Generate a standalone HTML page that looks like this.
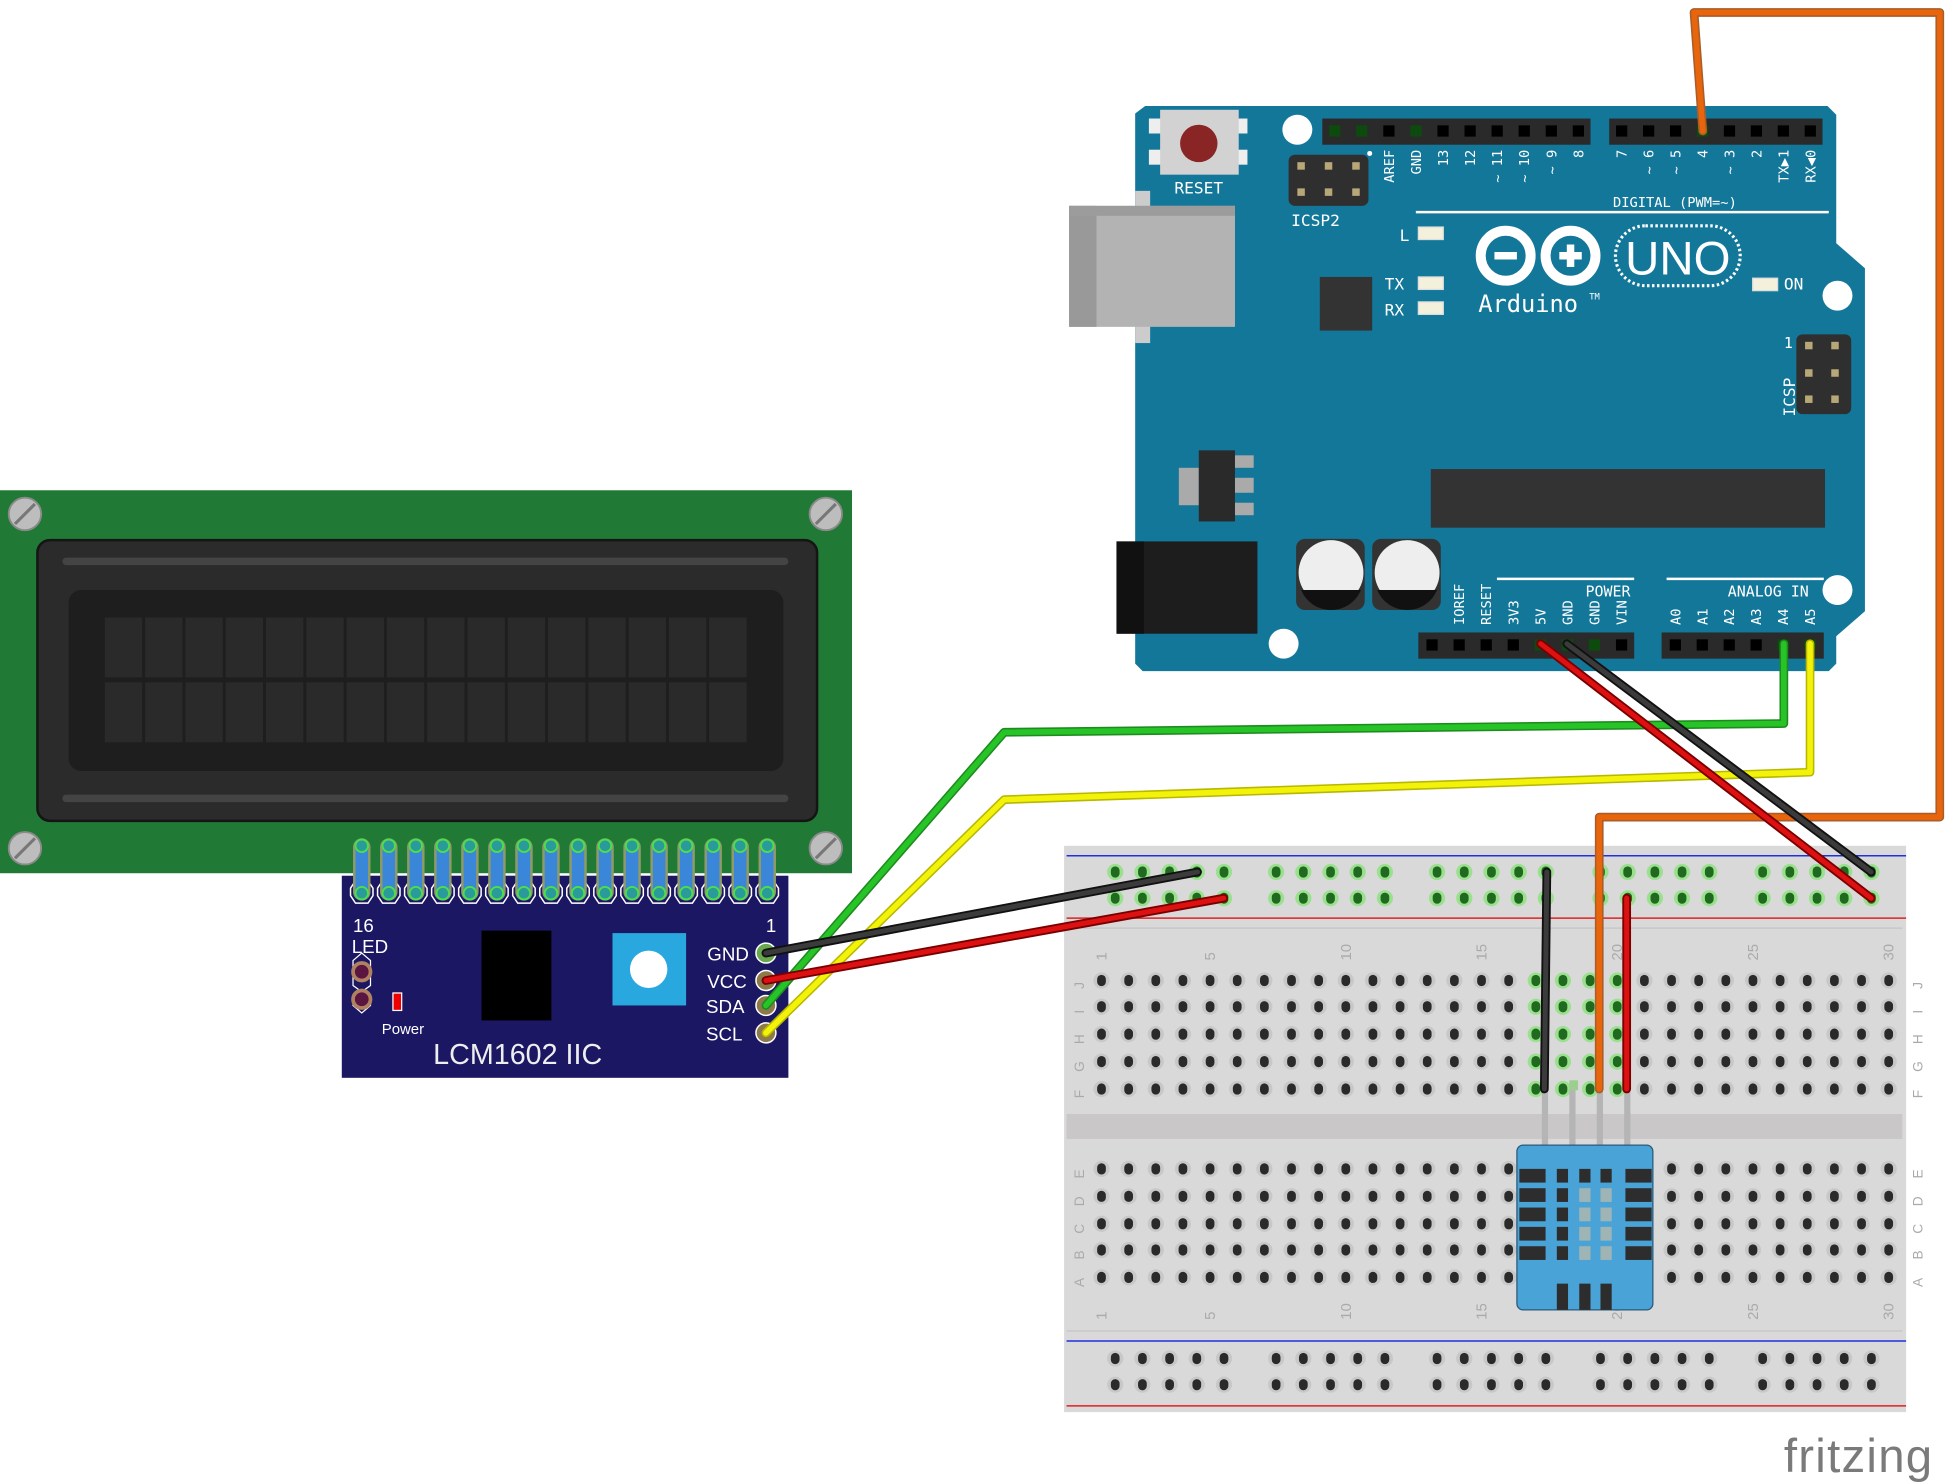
<!DOCTYPE html>
<html><head><meta charset="utf-8"><style>
html,body{margin:0;padding:0;background:#fff;}
svg{display:block;}
.m{font-family:"DejaVu Sans Mono","Liberation Mono",monospace;fill:#fff;}
.s{font-family:"Liberation Sans",sans-serif;}
</style></head><body>
<svg id="sv" width="1956" height="1482" viewBox="0 0 1568 1188" xmlns="http://www.w3.org/2000/svg">
<rect width="1568" height="1188" fill="#fff"/>
<!-- LCD -->
<rect x="0" y="393" width="683" height="307" fill="#207a36"/>
<g fill="#bdbdbd" stroke="#8a8a8a" stroke-width="1.5">
<circle cx="20" cy="412" r="13"/><circle cx="662" cy="412" r="13"/><circle cx="20" cy="680" r="13"/><circle cx="662" cy="680" r="13"/></g>
<g stroke="#777" stroke-width="2.5"><line x1="12" y1="420" x2="28" y2="404"/><line x1="654" y1="420" x2="670" y2="404"/><line x1="12" y1="688" x2="28" y2="672"/><line x1="654" y1="688" x2="670" y2="672"/></g>
<rect x="30" y="433" width="625" height="225" rx="10" fill="#2b2b2b" stroke="#151515" stroke-width="2"/>
<rect x="50" y="447" width="582" height="6" rx="3" fill="#444"/>
<rect x="50" y="637" width="582" height="6" rx="3" fill="#444"/>
<rect x="55" y="473" width="573" height="145" rx="10" fill="#1e1e1e"/>
<g id="cells" fill="#2a2a2a"></g>
<!-- I2C board -->
<rect x="274" y="702" width="358" height="162" fill="#1b1763"/>
<g id="lcdpins"></g>
<text x="283" y="747" class="s" font-size="15" fill="#fff">16</text>
<text x="282" y="764" class="s" font-size="15" fill="#fff">LED</text>
<text x="614" y="747" class="s" font-size="15" fill="#fff">1</text>
<path d="M283 770 l7 -6 l7 6 v20 l-7 5 l7 5 v6 l-7 6 l-7 -6 v-6 l7 -5 l-7 -5z" fill="none" stroke="#fff" stroke-width="1"/>
<circle cx="290" cy="779" r="7" fill="#5a1540" stroke="#b08060" stroke-width="3"/>
<circle cx="290" cy="801" r="7" fill="#5a1540" stroke="#b08060" stroke-width="3"/>
<rect x="315" y="796" width="7" height="14" fill="#e00" stroke="#fff" stroke-width="1"/>
<text x="306" y="829" class="s" font-size="12" fill="#fff">Power</text>
<rect x="386" y="746" width="56" height="72" fill="#000"/>
<rect x="491" y="748" width="59" height="58" fill="#29a8e0"/>
<circle cx="520" cy="777" r="15" fill="#fff"/>
<g class="s" font-size="15" fill="#fff"><text x="567" y="770">GND</text><text x="567" y="792">VCC</text><text x="566" y="812">SDA</text><text x="566" y="834">SCL</text></g>
<g fill="#55a050" stroke="#fff" stroke-width="1.2">
<circle cx="614" cy="764" r="8" fill="#6aa84f"/><circle cx="614" cy="786" r="8" fill="#8d7a4a"/><circle cx="614" cy="806" r="8" fill="#8d7a4a"/><circle cx="614" cy="828" r="8" fill="#8d7a4a"/></g>
<text x="415" y="853" class="s" font-size="23" fill="#eee" text-anchor="middle">LCM1602 IIC</text>

<!-- Arduino -->
<path d="M918 85 H1465 L1472 92 V195 L1495 215 V490 L1472 510 V532 L1466 538 H916 L910 532 V91 Z" fill="#13779a"/>
<rect x="921" y="95" width="10" height="12" fill="#eee"/><rect x="921" y="120" width="10" height="12" fill="#eee"/>
<rect x="991" y="95" width="9" height="12" fill="#eee"/><rect x="991" y="120" width="9" height="12" fill="#eee"/>
<rect x="930" y="88" width="63" height="52" fill="#d2d2d2"/>
<circle cx="961" cy="115" r="15" fill="#8a2525"/>
<text x="961" y="155" class="m" font-size="13" text-anchor="middle">RESET</text>
<g fill="#fff"><circle cx="1040" cy="104" r="12"/><circle cx="1473" cy="237" r="12"/><circle cx="1473" cy="473" r="12"/><circle cx="1029" cy="516" r="12"/></g>
<rect x="1060" y="95" width="215" height="21" fill="#2a2a2a"/>
<rect x="1290" y="95" width="171" height="21" fill="#2a2a2a"/>
<rect x="1137" y="507" width="173" height="21" fill="#2a2a2a"/>
<rect x="1332" y="507" width="130" height="21" fill="#2a2a2a"/>
<g id="hdr"></g>
<g id="lbl" class="m" font-size="11"></g>
<circle cx="1098" cy="123" r="2" fill="#fff"/>
<line x1="1135" y1="170" x2="1466" y2="170" stroke="#fff" stroke-width="2"/>
<text x="1293" y="166" class="m" font-size="11">DIGITAL (PWM=~)</text>
<rect x="1033" y="124" width="64" height="41" rx="5" fill="#2f2f2f"/>
<g fill="#b8a878"><rect x="1040" y="130" width="6" height="6"/><rect x="1062" y="130" width="6" height="6"/><rect x="1084" y="130" width="6" height="6"/><rect x="1040" y="151" width="6" height="6"/><rect x="1062" y="151" width="6" height="6"/><rect x="1084" y="151" width="6" height="6"/></g>
<text x="1035" y="181" class="m" font-size="13">ICSP2</text>
<rect x="910" y="153" width="12" height="122" fill="#ccc"/>
<rect x="857" y="165" width="133" height="97" fill="#b3b3b3"/>
<rect x="857" y="165" width="22" height="97" fill="#999"/>
<rect x="857" y="165" width="133" height="8" fill="#9c9c9c"/>
<text x="1122" y="193" class="m" font-size="13">L</text>
<text x="1110" y="232" class="m" font-size="13">TX</text>
<text x="1110" y="253" class="m" font-size="13">RX</text>
<g fill="#f3f0dc" stroke="#ddd"><rect x="1137" y="182" width="20" height="10"/><rect x="1137" y="222" width="20" height="10"/><rect x="1137" y="242" width="20" height="10"/><rect x="1405" y="223" width="20" height="10"/></g>
<text x="1430" y="232" class="m" font-size="13">ON</text>
<rect x="1058" y="222" width="42" height="43" fill="#333"/>
<g fill="none" stroke="#fff" stroke-width="8"><circle cx="1207" cy="205" r="20"/><circle cx="1259" cy="205" r="20"/></g>
<rect x="1198" y="202" width="18" height="6" fill="#fff"/><rect x="1250" y="202" width="18" height="6" fill="#fff"/><rect x="1256" y="196" width="6" height="18" fill="#fff"/>
<text x="1185" y="250" class="m" font-size="19">Arduino</text><text x="1274" y="240" class="m" font-size="7">TM</text>
<rect x="1295" y="181" width="100" height="48" rx="24" fill="none" stroke="#fff" stroke-width="2.5" stroke-dasharray="2 2"/>
<text x="1345" y="220" class="s" font-size="38" fill="#fff" text-anchor="middle">UNO</text>
<rect x="1440" y="268" width="44" height="64" rx="5" fill="#2f2f2f"/>
<g fill="#b8a878"><rect x="1447" y="274" width="6" height="6"/><rect x="1468" y="274" width="6" height="6"/><rect x="1447" y="296" width="6" height="6"/><rect x="1468" y="296" width="6" height="6"/><rect x="1447" y="317" width="6" height="6"/><rect x="1468" y="317" width="6" height="6"/></g>
<text x="1430" y="279" class="m" font-size="12">1</text>
<text transform="translate(1439,334) rotate(-90)" class="m" font-size="13">ICSP</text>
<rect x="945" y="375" width="16" height="30" fill="#aaa"/>
<g fill="#aaa"><rect x="990" y="365" width="15" height="10"/><rect x="990" y="383" width="15" height="12"/><rect x="990" y="403" width="15" height="10"/></g>
<rect x="961" y="361" width="29" height="57" fill="#2a2a2a"/>
<rect x="1147" y="376" width="316" height="47" fill="#333"/>
<rect x="895" y="434" width="113" height="74" fill="#1d1d1d"/><rect x="895" y="434" width="22" height="74" fill="#111"/>
<rect x="1039" y="432" width="55" height="57" rx="7" fill="#333"/>
<rect x="1100" y="432" width="55" height="57" rx="7" fill="#333"/>
<circle cx="1067" cy="459" r="26" fill="#eee"/><circle cx="1128" cy="459" r="26" fill="#eee"/>
<path d="M1043 473 H1091 A26 26 0 0 1 1043 473Z" fill="#111"/>
<path d="M1104 473 H1152 A26 26 0 0 1 1104 473Z" fill="#111"/>
<line x1="1200" y1="464" x2="1310" y2="464" stroke="#fff" stroke-width="2"/>
<line x1="1336" y1="464" x2="1462" y2="464" stroke="#fff" stroke-width="2"/>
<text x="1271" y="478" class="m" font-size="12">POWER</text>
<text x="1385" y="478" class="m" font-size="12">ANALOG IN</text>

<!-- Breadboard -->
<rect x="853" y="678" width="675" height="454" fill="#d9d9d9"/>
<line x1="855" y1="686" x2="1528" y2="686" stroke="#2030e0" stroke-width="1.2"/>
<line x1="855" y1="736" x2="1528" y2="736" stroke="#e02020" stroke-width="1.2"/>
<line x1="855" y1="1075" x2="1528" y2="1075" stroke="#2030e0" stroke-width="1.2"/>
<line x1="855" y1="1127" x2="1528" y2="1127" stroke="#e02020" stroke-width="1.2"/>
<line x1="855" y1="744" x2="1525" y2="744" stroke="#c4c4c4" stroke-width="1"/>
<line x1="855" y1="1067" x2="1525" y2="1067" stroke="#c4c4c4" stroke-width="1"/>
<rect x="855" y="893" width="670" height="20" fill="#c9c7c7"/>
<g id="bb"></g>
<!-- DHT11 legs -->
<g fill="#b5b5b5"><rect x="1236" y="873" width="5" height="46"/><rect x="1258" y="873" width="5" height="46"/><rect x="1280" y="873" width="5" height="46"/><rect x="1302" y="873" width="5" height="46"/></g>
<rect x="1258" y="866" width="7" height="8" fill="#9ccf8f"/>
<rect x="1216" y="918" width="109" height="132" rx="5" fill="#4aa3d6" stroke="#2a5a7a" stroke-width="1"/>
<g id="dht" fill="#2d2d2d"></g>

<!-- wires -->
<g fill="none" stroke-linecap="round" stroke-linejoin="round">
<g stroke="#a85d2a" stroke-width="7"><path d="M1365 105 L1358 10 L1555 10 L1555 655 L1282 655 L1282 873"/></g>
<g stroke="#e8650c" stroke-width="4.5"><path d="M1365 105 L1358 10 L1555 10 L1555 655 L1282 655 L1282 873"/></g>
<path d="M1430 516 V580 L805 587 L614 806" stroke="#1f8a1f" stroke-width="7"/>
<path d="M1430 516 V580 L805 587 L614 806" stroke="#27c427" stroke-width="4.5"/>
<path d="M1451 516 V619 L805 641 L614 828" stroke="#b8b800" stroke-width="7"/>
<path d="M1451 516 V619 L805 641 L614 828" stroke="#f2f20a" stroke-width="4.5"/>
<path d="M1256 516 L1500 699" stroke="#111" stroke-width="7"/><path d="M1256 516 L1500 699" stroke="#3b3b3b" stroke-width="4"/>
<path d="M1235 516 L1500 720" stroke="#7a0000" stroke-width="7"/><path d="M1235 516 L1500 720" stroke="#d11" stroke-width="4"/>
<path d="M614 764 L960 699" stroke="#111" stroke-width="7"/><path d="M614 764 L960 699" stroke="#3b3b3b" stroke-width="4"/>
<path d="M614 786 L981 720" stroke="#7a0000" stroke-width="7"/><path d="M614 786 L981 720" stroke="#d11" stroke-width="4"/>
<path d="M1240 699 L1238 873" stroke="#111" stroke-width="7"/><path d="M1240 699 L1238 873" stroke="#3b3b3b" stroke-width="4"/>
<path d="M1304 720 L1304 873" stroke="#7a0000" stroke-width="7"/><path d="M1304 720 L1304 873" stroke="#d11" stroke-width="4"/>
</g>
<text x="1430" y="1180" class="s" font-size="38" fill="#7a7a7a" letter-spacing="1">fritzing</text>
</svg>
<script>
var NS="http://www.w3.org/2000/svg";
function el(p,t,a,txt){var e=document.createElementNS(NS,t);for(var k in a)e.setAttribute(k,a[k]);if(txt!==undefined)e.textContent=txt;document.getElementById(p).appendChild(e);return e;}
// LCD cells
for(var r=0;r<2;r++)for(var c=0;c<16;c++)el("cells","rect",{x:84+c*32.3,y:495+r*52,width:30,height:48});
// LCD pins
var hp="";
for(var i=0;i<16;i++){var x=290+i*21.67;
 hp+="M"+(x-9)+" 712 l4 -6 h10 l4 6 v6 l-4 6 h-10 l-4 -6z ";}
el("lcdpins","path",{d:hp,fill:"none",stroke:"#fff","stroke-width":"1.2"});
for(var i=0;i<16;i++){var x=290+i*21.67;
 el("lcdpins","rect",{x:x-7,y:672,width:14,height:50,rx:7,fill:"#8e9a68"});
 el("lcdpins","rect",{x:x-5,y:680,width:10,height:40,fill:"#3a86d8"});
 el("lcdpins","circle",{cx:x,cy:678,r:5,fill:"#2a9a9a",stroke:"#4ae04a","stroke-width":1.5});
 el("lcdpins","circle",{cx:x,cy:716,r:5,fill:"#2a9a9a",stroke:"#4ae04a","stroke-width":1.5});}
// Arduino headers
function pins(xs,y,green){xs.forEach(function(x,i){el("hdr","rect",{x:x-4.5,y:y-4.5,width:9,height:9,fill:green&&green.indexOf(i)>=0?"#0d4a0d":"#000"});});}
var top1=[],top2=[];for(var i=0;i<10;i++)top1.push(1070+i*21.7);for(var i=0;i<8;i++)top2.push(1300+i*21.6);
pins(top1,105,[0,1,3]);pins(top2,105,[3]);
var pw=[],an=[];for(var i=0;i<8;i++)pw.push(1148+i*21.7);for(var i=0;i<6;i++)an.push(1343+i*21.6);
pins(pw,517,[4,5,6]);pins(an,517,[4,5]);
function vl(x,y,t){el("lbl","text",{transform:"translate("+(x+4)+","+y+") rotate(-90)","text-anchor":"end"},t);}
var tl=["AREF","GND","13","12","~ 11","~ 10","~ 9","8"];tl.forEach(function(t,i){vl(top1[i+2],120,t);});
var t2=["7","~ 6","~ 5","4","~ 3","2","TX▶1","RX◀0"];t2.forEach(function(t,i){vl(top2[i],120,t);});
function vb(x,t){el("lbl","text",{transform:"translate("+(x+4)+",501) rotate(-90)"},t);}
["IOREF","RESET","3V3","5V","GND","GND","VIN"].forEach(function(t,i){vb(pw[i+1]-21.7+21.7,t);});
["A0","A1","A2","A3","A4","A5"].forEach(function(t,i){vb(an[i],t);});
// Breadboard holes
function hole(x,y,g){el("bb","circle",{cx:x,cy:y,r:6.5,fill:g?"#9be08f":"#c8c8c8"});el("bb","rect",{x:x-3.5,y:y-4.5,width:7,height:9,rx:3.5,fill:g?"#1f6a1f":"#2a2a2a"});}
var gx=[894,1023,1152,1283,1413];
[699,720,1089,1110].forEach(function(y){gx.forEach(function(g){for(var k=0;k<5;k++)hole(g+k*21.8,y,y<800);});});
var cx=[];for(var c=0;c<30;c++)cx.push(883+c*21.76);
[786,807,829,851,873].forEach(function(y){cx.forEach(function(x,c){hole(x,y,c>=16&&c<=19);});});
[937,959,981,1002,1024].forEach(function(y){cx.forEach(function(x){hole(x,y,false);});});
[1,5,10,15,20,25,30].forEach(function(n){var x=cx[n-1]+4;
 el("bb","text",{transform:"translate("+x+",770) rotate(-90)",class:"s","font-size":"12",fill:"#aaa"},n);
 el("bb","text",{transform:"translate("+x+",1058) rotate(-90)",class:"s","font-size":"12",fill:"#aaa"},n);});
var L1=["J","I","H","G","F"],L2=["E","D","C","B","A"];
[786,807,829,851,873].forEach(function(y,i){[869,1541].forEach(function(x){el("bb","text",{transform:"translate("+x+","+(y+4)+") rotate(-90)",class:"s","font-size":"11",fill:"#aaa","text-anchor":"middle"},L1[i]);});});
[937,959,981,1002,1024].forEach(function(y,i){[869,1541].forEach(function(x){el("bb","text",{transform:"translate("+x+","+(y+4)+") rotate(-90)",class:"s","font-size":"11",fill:"#aaa","text-anchor":"middle"},L2[i]);});});
// DHT slots
for(var r=0;r<5;r++){var y=937+r*15.5;
 el("dht","rect",{x:1218,y:y,width:21,height:11});
 el("dht","rect",{x:1248,y:y,width:9,height:11});
 el("dht","rect",{x:1266,y:y,width:9,height:11,fill:r>0?"#9fb5b5":"#2d2d2d"});
 el("dht","rect",{x:1283,y:y,width:9,height:11,fill:r>0?"#9fb5b5":"#2d2d2d"});
 el("dht","rect",{x:1303,y:y,width:21,height:11});}
[1248,1266,1283].forEach(function(x){el("dht","rect",{x:x,y:1029,width:9,height:21});});
</script>
</body></html>
